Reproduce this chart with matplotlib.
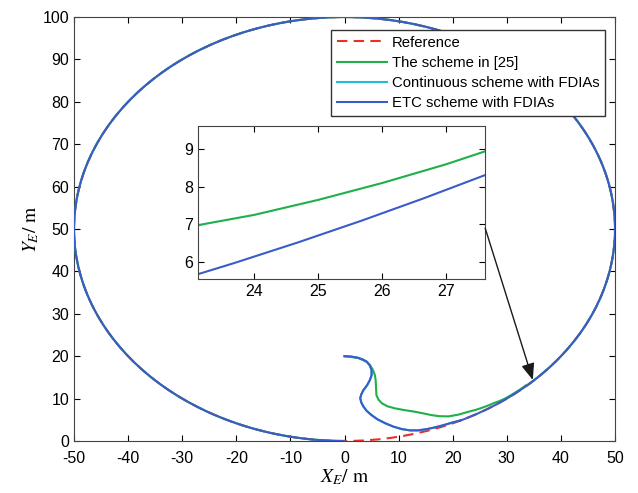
import matplotlib
matplotlib.use('Agg')
import matplotlib.pyplot as plt
from matplotlib.patches import Arc

plt.rcParams['font.family'] = ['Liberation Sans', 'DejaVu Sans']
plt.rcParams['mathtext.fontset'] = 'stix'
plt.rcParams['axes.unicode_minus'] = False

# reference circle
circle_center = (0, 50)
circle_radius = 50

# transient parts of the trajectories
green_x = [0, 2.5, 4.1, 4.7, 5.2, 5.6, 5.75, 5.8, 5.9, 6.3, 6.9, 7.9, 9.3, 11.0, 13.0,
           14.6, 16.1, 17.5, 19.2, 21.0, 23.2, 24.0, 25.0, 26.0, 27.0, 27.6, 28.6,
           29.5, 30.5, 31.5, 32.5, 33.5]
green_y = [20, 19.6, 18.7, 17.9, 16.9, 15.6, 14.4, 13.2, 10.8, 9.7, 8.9, 8.2, 7.7, 7.3,
           6.9, 6.5, 6.1, 5.85, 5.8, 6.2, 7.0, 7.25, 7.65, 8.1, 8.6, 8.94, 9.4,
           9.9, 10.6, 11.4, 12.2, 13.1]
green_join_deg = 312.5

blue_x = [0, 1.3, 2.55, 3.4, 4.1, 4.7, 5.0, 5.0, 4.7, 4.2, 3.5, 3.1, 2.9, 3.1, 3.5,
          4.1, 5.0, 6.1, 7.5, 9.0, 10.6, 12.1, 13.6, 15.2, 16.7, 18.2, 19.8, 21.3]
blue_y = [20, 19.9, 19.6, 19.2, 18.7, 17.8, 16.7, 15.5, 14.4, 13.2, 12.0, 11.0, 10.1,
          9.1, 8.1, 7.1, 6.1, 5.1, 4.2, 3.4, 2.8, 2.5, 2.5, 2.8, 3.2, 3.7, 4.3, 4.8]
blue_join_deg = 295.0

cyan_x = blue_x
cyan_y = blue_y

# colours
c_red = '#e8302a'
c_green = '#1fb04a'
c_cyan = '#1fbfd0'
c_blue = '#3a5cc8'

fig = plt.figure(figsize=(6.38, 4.93), dpi=100)
ax = fig.add_axes([0.116, 0.1055, 0.848, 0.86])

diam = 2 * circle_radius
ref = Arc(circle_center, diam, diam, theta1=0, theta2=360, color=c_red,
          lw=1.5, ls=(0, (5, 3)), zorder=2)
ax.add_patch(ref)
ref_line, = ax.plot([], [], color=c_red, lw=1.5, ls='--', dashes=(5, 3), label='Reference')

g_line, = ax.plot(green_x, green_y, color=c_green, lw=1.5, zorder=3, label='The scheme in [25]')
ax.add_patch(Arc(circle_center, diam, diam, theta1=green_join_deg, theta2=630,
                 color=c_green, lw=1.5, zorder=3))
c_line, = ax.plot(cyan_x, cyan_y, color=c_cyan, lw=1.5, zorder=4,
                  label='Continuous scheme with FDIAs')
b_line, = ax.plot(blue_x, blue_y, color=c_blue, lw=1.5, zorder=5, label='ETC scheme with FDIAs')
ax.add_patch(Arc(circle_center, diam, diam, theta1=blue_join_deg, theta2=630,
                 color=c_blue, lw=1.5, zorder=5))

ax.set_xlim(-50, 50)
ax.set_ylim(0, 100)
ax.set_xticks(range(-50, 51, 10))
ax.set_yticks(range(0, 101, 10))
ax.tick_params(direction='in', top=True, right=True, labelsize=11.5, length=4)
ax.tick_params(axis='x', pad=7)
for s in ax.spines.values():
    s.set_color('#444444')
ax.set_xlabel(r'$X_E$/ m', fontsize=14, family='STIXGeneral', labelpad=1)
ax.set_ylabel(r'$Y_E$/ m', fontsize=14, family='STIXGeneral', labelpad=1)

leg = ax.legend(handles=[ref_line, g_line, c_line, b_line], loc='upper right',
                bbox_to_anchor=(0.982, 0.97), borderaxespad=0, fontsize=10.7,
                handlelength=3.4, labelspacing=0.42, fancybox=False, framealpha=1,
                edgecolor='#333333', borderpad=0.4, handletextpad=0.3)
leg.get_frame().set_linewidth(1.0)

# zoomed inset
ins = ax.inset_axes([0.229, 0.382, 0.530, 0.361])
ins.plot(green_x, green_y, color=c_green, lw=1.5)
ins.add_patch(Arc(circle_center, diam, diam, theta1=blue_join_deg, theta2=630,
                  color=c_blue, lw=1.5))
ins.set_xlim(23.12, 27.6)
ins.set_ylim(5.54, 9.62)
ins.set_xticks([24, 25, 26, 27])
ins.set_yticks([6, 7, 8, 9])
ins.tick_params(direction='in', top=True, right=True, labelsize=11.5, length=4)
for s in ins.spines.values():
    s.set_color('#444444')

ax.annotate('', xy=(34.8, 14.4), xycoords='data', xytext=(0.760, 0.502),
            textcoords='axes fraction',
            arrowprops=dict(arrowstyle='-|>,head_length=1.0,head_width=0.4',
                            color='#1a1a1a', lw=1.0, shrinkA=0, shrinkB=0), zorder=6)

fig.savefig('out.png', dpi=100)
